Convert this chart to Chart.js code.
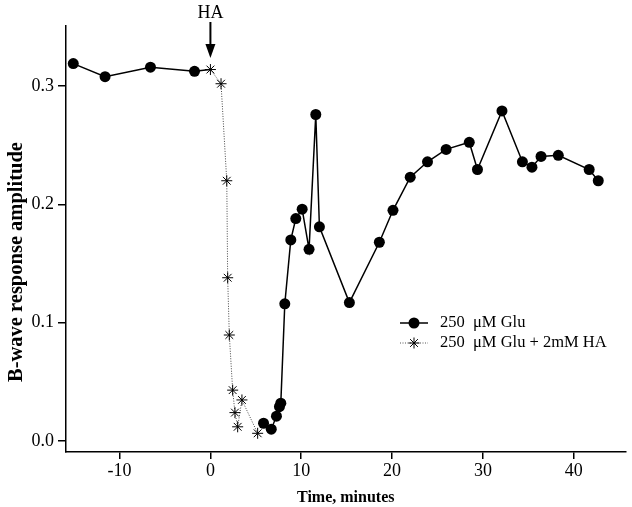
<!DOCTYPE html>
<html>
<head>
<meta charset="utf-8">
<script src="https://cdn.jsdelivr.net/npm/chart.js@4"></script>
<style>
  body { margin: 0; background: #fff; }
</style>
</head>
<body>
<canvas id="bwaveChart" width="632" height="507"></canvas>
<script>
// B-wave amplitude vs time, HA applied at t = 0

// control period before HA (250 uM Glu)
const preTime = [-15.1, -11.6, -6.6, -1.75];
const preAmp = [0.319, 0.308, 0.316, 0.3125];

// with HA (250 uM Glu + 2mM HA)
const haTime = [0, 1.17, 1.8, 1.9, 2.08, 2.45, 2.7, 3.0, 3.47, 5.2];
const haAmp = [0.314, 0.302, 0.220, 0.138, 0.0896, 0.043, 0.024, 0.012, 0.0347, 0.0065];

// recovery (250 uM Glu again)
const gluTime = [5.85, 6.7, 7.27, 7.6, 7.75, 8.19, 8.85, 9.4, 10.1, 10.86, 11.6, 12.0, 15.3, 18.6,
                 20.1, 22.0, 23.9, 25.95, 28.5, 29.4, 32.1, 34.35, 35.4, 36.4, 38.3, 41.7, 42.7];
const gluAmp = [0.015, 0.010, 0.021, 0.029, 0.032, 0.116, 0.170, 0.188, 0.196, 0.162, 0.276, 0.181, 0.117, 0.168,
                0.195, 0.223, 0.236, 0.2465, 0.2525, 0.2295, 0.279, 0.236, 0.2315, 0.2405, 0.2415, 0.2295, 0.220];

const xTicks = [-10, 0, 10, 20, 30, 40];
const yTicks = [0.0, 0.1, 0.2, 0.3];

const legendLabels = ['250  \u03bcM Glu', '250  \u03bcM Glu + 2mM HA'];
const yTitle = 'B-wave response amplitude';

const serif = '"Liberation Serif", "Times New Roman", serif';

// solid line runs from the last control point into the first HA point, then breaks
const gluData = preTime.map((t, i) => ({x: t, y: preAmp[i]}));
gluData.push({x: haTime[0], y: haAmp[0], hide: true});
gluData.push({x: (haTime[0] + gluTime[0]) / 2, y: null});
gluTime.forEach((t, i) => gluData.push({x: t, y: gluAmp[i]}));

const haData = haTime.map((t, i) => ({x: t, y: haAmp[i]}));

function drawStar(c, sx, sy, r) {
    const d = r * 0.7071;
    c.beginPath();
    c.moveTo(sx - r, sy); c.lineTo(sx + r, sy);
    c.moveTo(sx, sy - r); c.lineTo(sx, sy + r);
    c.moveTo(sx - d, sy - d); c.lineTo(sx + d, sy + d);
    c.moveTo(sx - d, sy + d); c.lineTo(sx + d, sy - d);
    c.stroke();
}

// HA arrow, y title (sits a bit below centre in the original) and legend
const extras = {
    id: 'extras',
    afterDraw(chart) {
        const c = chart.ctx;
        const ax = chart.scales.x.getPixelForValue(0);
        c.save();
        c.fillStyle = '#000';
        c.strokeStyle = '#000';
        c.font = '18px ' + serif;
        c.textAlign = 'center';
        c.textBaseline = 'middle';
        c.fillText('HA', ax, 13);
        c.lineWidth = 2;
        c.beginPath();
        c.moveTo(ax, 22);
        c.lineTo(ax, 46);
        c.stroke();
        c.beginPath();
        c.moveTo(ax - 5, 44);
        c.lineTo(ax + 5, 44);
        c.lineTo(ax, 58);
        c.closePath();
        c.fill();

        // y axis title
        c.save();
        c.translate(17, 262);
        c.rotate(-Math.PI / 2);
        c.font = 'bold 20.5px ' + serif;
        c.fillText(yTitle, 0, 0);
        c.restore();

        // legend
        const lx = 400, ly = 323, gap = 20;
        c.textAlign = 'left';
        c.font = '16.5px ' + serif;
        // row 1
        c.lineWidth = 1.5;
        c.beginPath();
        c.moveTo(lx, ly);
        c.lineTo(lx + 28, ly);
        c.stroke();
        c.beginPath();
        c.arc(lx + 14, ly, 5.5, 0, Math.PI * 2);
        c.fill();
        c.fillText(legendLabels[0], lx + 40, ly);
        // row 2
        c.strokeStyle = '#555';
        c.lineWidth = 1;
        c.setLineDash([1, 1.5]);
        c.beginPath();
        c.moveTo(lx, ly + gap);
        c.lineTo(lx + 28, ly + gap);
        c.stroke();
        c.setLineDash([]);
        c.strokeStyle = '#000';
        drawStar(c, lx + 14, ly + gap, 5.5);
        c.fillText(legendLabels[1], lx + 40, ly + gap);
        c.restore();
    }
};

const ctx = document.getElementById('bwaveChart').getContext('2d');

const chart = new Chart(ctx, {
    type: 'line',
    data: {
        datasets: [{
            label: legendLabels[1],
            data: haData,
            borderColor: '#444',
            borderWidth: 1,
            borderDash: [1, 1.5],
            pointStyle: 'star',
            pointRadius: 5.5,
            pointBorderColor: '#000',
            pointBorderWidth: 1,
            pointBackgroundColor: '#000',
            tension: 0
        }, {
            label: legendLabels[0],
            data: gluData,
            borderColor: '#000',
            borderWidth: 1.5,
            pointStyle: 'circle',
            pointRadius: c => (c.raw && c.raw.hide) ? 0 : 5.5,
            pointBackgroundColor: '#000',
            pointBorderColor: '#000',
            pointBorderWidth: 0,
            spanGaps: false,
            tension: 0
        }]
    },
    options: {
        responsive: false,
        animation: false,
        devicePixelRatio: 1,
        layout: { padding: { top: 26, right: 4, left: 0, bottom: 0 } },
        plugins: {
            legend: { display: false },
            tooltip: { enabled: false }
        },
        scales: {
            x: {
                type: 'linear',
                min: -15.9,
                max: 45.7,
                afterBuildTicks: axis => { axis.ticks = xTicks.map(v => ({value: v})); },
                afterFit: axis => { axis.height = 55; },
                border: { color: '#000', width: 1.5 },
                grid: { drawOnChartArea: false, drawTicks: true, tickLength: 7, color: '#000', lineWidth: 1.5 },
                ticks: {
                    color: '#000',
                    padding: 1,
                    maxRotation: 0,
                    font: { family: serif, size: 18 },
                    callback: v => String(v)
                },
                title: {
                    display: true,
                    text: 'Time, minutes',
                    color: '#000',
                    padding: { top: 0, bottom: 0 },
                    font: { family: serif, size: 16, weight: 'bold' }
                }
            },
            y: {
                type: 'linear',
                min: -0.0093,
                max: 0.3508,
                afterBuildTicks: axis => { axis.ticks = yTicks.map(v => ({value: v})); },
                afterFit: axis => { axis.width = 66; },
                border: { color: '#000', width: 1.5 },
                grid: { drawOnChartArea: false, drawTicks: true, tickLength: 8, color: '#000', lineWidth: 1.5 },
                ticks: {
                    color: '#000',
                    padding: 4,
                    font: { family: serif, size: 18 },
                    callback: v => v.toFixed(1)
                },
                title: { display: false }
            }
        }
    },
    plugins: [extras]
});
</script>
</body>
</html>
